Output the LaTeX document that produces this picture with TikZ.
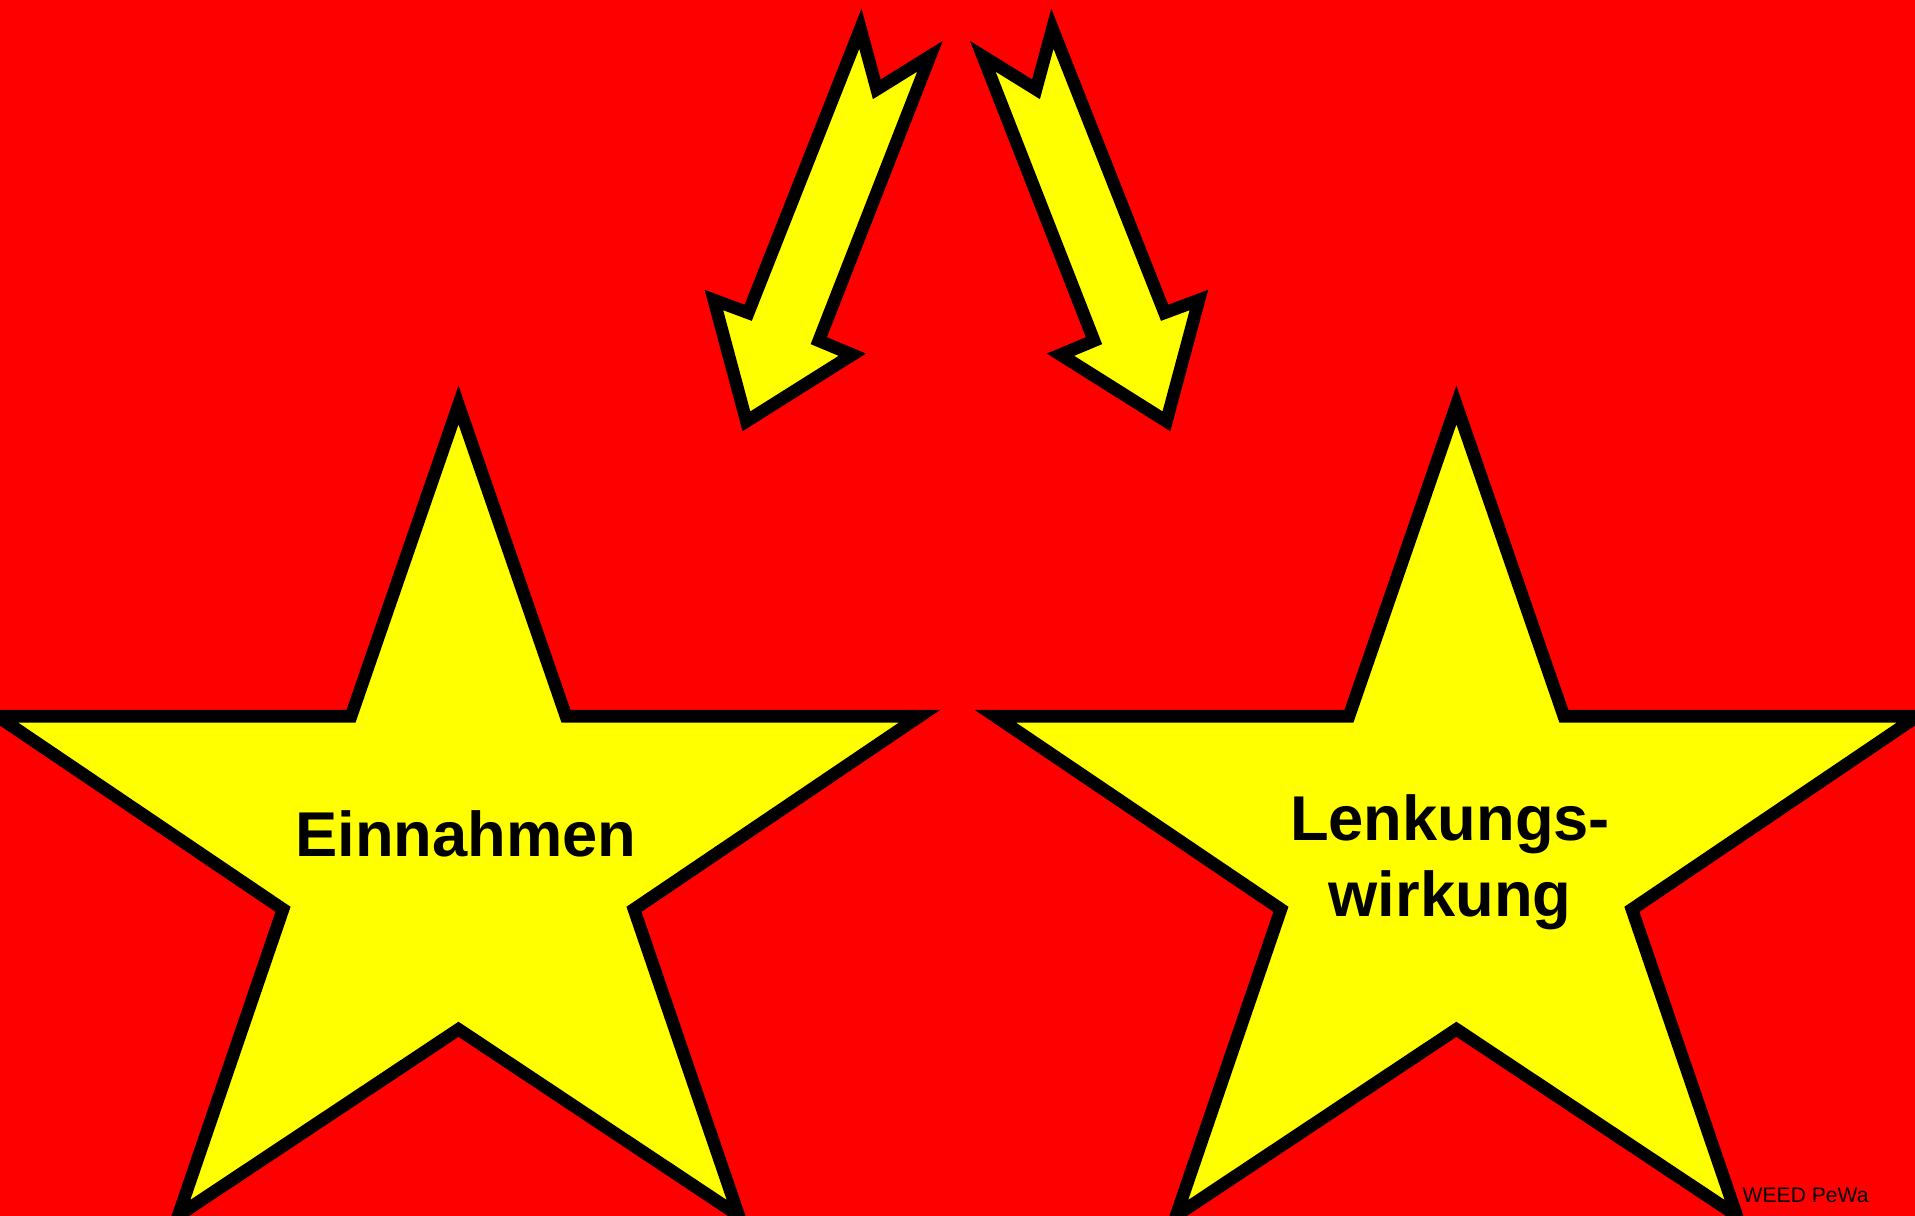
\documentclass[tikz,border=0pt]{standalone}
\usepackage{fontspec}
\setmainfont{Liberation Sans}
\usetikzlibrary{positioning}
\definecolor{Signal}{HTML}{FF0000}
\definecolor{Lemon}{HTML}{FFFF00}

\begin{document}
\begin{tikzpicture}[x=0.01cm, y=-0.01cm,
    starfill/.style={fill=Lemon, draw=black, line width=3.6pt, miter limit=10},
    starword/.style={font=\fontsize{18}{21.5}\selectfont\bfseries, align=center, inner sep=0pt}]
    \useasboundingbox (0,0) rectangle (1915,1216);
    \fill[Signal] (0,0) rectangle (1915,1216);
    \clip (0,0) rectangle (1915,1216);
    % the two arrows, mirrored
    \foreach \s in {1,-1} {
      \draw[starfill, shift={(956.4,0)}, xscale=\s]
        (-96,28.7) -- (-79.6,89.3) -- (-26.4,56.3) -- (-137.6,340.7) -- (-104.1,354.7)
        -- (-210,421.3) -- (-242.5,300) -- (-208.2,312.8) -- cycle;
    }
    % the two stars
    \foreach \cx in {458.5,1456.4} {
      \draw[starfill, shift={(\cx,0)}]
        (0,405) -- (107.5,716.3) -- (461,716.3) -- (175.5,909.3) -- (280.2,1215.5)
        -- (0,1029.3) -- (-280.2,1215.5) -- (-175.5,909.3) -- (-461,716.3)
        -- (-107.5,716.3) -- cycle;
    }
    \node[starword, anchor=base] (einnahmen) at (466,856.7) {Einnahmen};
    \node[starword] (lenkung) at (1450,862.5) {Lenkungs-\\wirkung};
    \node[font=\fontsize{6}{7}\selectfont, anchor=base west, inner sep=0pt] (credit) at (1742,1202.7) {WEED PeWa};
\end{tikzpicture}
\end{document}
